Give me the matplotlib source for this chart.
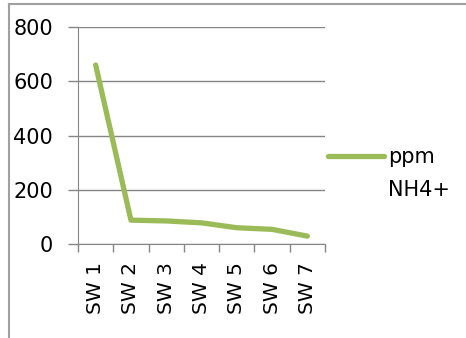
import matplotlib
matplotlib.use("Agg")
import matplotlib.pyplot as plt
from matplotlib.lines import Line2D

categories = ["SW 1", "SW 2", "SW 3", "SW 4", "SW 5", "SW 6", "SW 7"]
values = [660, 88, 85, 78, 60, 54, 29]
series_label = ["ppm", "NH4+"]
yticks = [0, 200, 400, 600, 800]

plt.rcParams['font.family'] = ['DejaVu Sans']
W, H = 466, 338
fig = plt.figure(figsize=(W/100, H/100), dpi=100)
ax = fig.add_axes([78/W, 1-244/H, (325-78)/W, (244-27)/H])

green = '#9BBB59'
grid = '#868686'
x = list(range(len(categories)))
ax.plot(x, values, color=green, lw=3.8, solid_capstyle='round', solid_joinstyle='round')
ax.set_xlim(-0.5, len(categories)-0.5)
ax.set_ylim(0, 800)
ax.set_yticks(yticks)
ax.set_yticklabels([str(v) for v in yticks], fontsize=15)
ax.yaxis.grid(True, color=grid, lw=1)
ax.set_axisbelow(True)
for s in ['top', 'right']:
    ax.spines[s].set_visible(False)
ax.spines['left'].set_color(grid)
ax.spines['bottom'].set_color(grid)
ax.tick_params(axis='y', length=7, color=grid, width=1, pad=11)
ax.set_xticks([i - 0.5 for i in range(len(categories)+1)])
ax.set_xticklabels([])
ax.set_xticks(x, minor=True)
ax.set_xticklabels(categories, minor=True, rotation=90, fontsize=14.5, va='top')
ax.tick_params(axis='x', which='major', length=6, color=grid, width=1)
ax.tick_params(axis='x', which='minor', length=0, pad=13)

# legend
fig.lines.append(Line2D([328/W, 384/W], [1-156/H, 1-156/H], color=green, lw=3.8,
                        solid_capstyle='round', transform=fig.transFigure))
fig.text(388/W, 1-163/H, series_label[0], fontsize=15, va='baseline', ha='left')
fig.text(388/W, 1-196/H, series_label[1], fontsize=15, va='baseline', ha='left')

# outer border (top and left visible)
fig.lines.append(Line2D([9/W, 1], [1-4/H, 1-4/H], color='#A0A0A0', lw=1.5, transform=fig.transFigure))
fig.lines.append(Line2D([9/W, 9/W], [0, 1-4/H], color='#A0A0A0', lw=1.5, transform=fig.transFigure))

fig.savefig("out.png", dpi=100)
